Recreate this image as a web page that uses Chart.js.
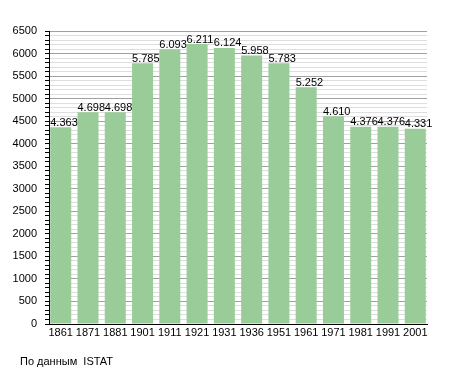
<!DOCTYPE html>
<html><head><meta charset="utf-8">
<script src="https://cdn.jsdelivr.net/npm/chart.js@4/dist/chart.umd.min.js"></script>
<style>html,body{margin:0;padding:0;background:#fff}canvas{display:block}</style>
</head><body>
<canvas id="c" width="455" height="373"></canvas>
<script>
const years = ['1861','1871','1881','1901','1911','1921','1931','1936','1951','1961','1971','1981','1991','2001'];
const population = [4363,4698,4698,5785,6093,6211,6124,5958,5783,5252,4610,4376,4376,4331];
const yMax = 6500;
const sourceNote = 'По данным  ISTAT';

const FONT = '"Liberation Sans", Arial, sans-serif';
function fmt(v){ return String(v).replace(/\B(?=(\d{3})+(?!\d))/g,'.'); }

const points = population.map((v,i)=>({x:i, y:v}));

const labelPlugin = {
  id:'vals',
  afterDatasetsDraw(chart){
    const ctx = chart.ctx;
    const meta = chart.getDatasetMeta(0);
    ctx.save();
    ctx.font = '11px ' + FONT;
    ctx.fillStyle = '#000';
    ctx.textAlign = 'left';
    ctx.textBaseline = 'bottom';
    meta.data.forEach((bar,i)=>{
      const left = bar.x - bar.width/2;
      ctx.fillText(fmt(population[i]), left, bar.y + 1);
    });
    ctx.textBaseline = 'middle';
    ctx.fillText(sourceNote, 20, 362);
    ctx.restore();
  }
};

new Chart(document.getElementById('c'), {
  type:'bar',
  data:{ datasets:[{ data: points, backgroundColor:'#99cc99', borderWidth:0, barPercentage:0.77, categoryPercentage:1 }]},
  options:{
    responsive:false, animation:false,
    layout:{ padding:{ left:0, right:28, top:31, bottom:0 } },
    plugins:{ legend:{display:false}, tooltip:{enabled:false} },
    scales:{
      x:{
        type:'linear', min:-0.43, max:years.length-1+0.43, offset:false,
        grid:{ display:false, drawTicks:false },
        border:{ display:true, color:'#000', width:1 },
        afterBuildTicks(s){ s.ticks = years.map((_,i)=>({value:i})); },
        ticks:{ color:'#000', font:{ family:FONT, size:11 }, padding:2, maxRotation:0, autoSkip:false,
          callback(v){ return years[v] !== undefined ? years[v] : ''; } },
        afterFit(s){ s.height = 49; }
      },
      y:{
        min:0, max:yMax,
        border:{ display:true, color:'#000', width:1 },
        grid:{
          color(c){ return c.tick && c.tick.value % 500 === 0 ? '#a0a0a0' : '#dedede'; },
          tickColor:'#000', tickLength:4, drawTicks:true
        },
        ticks:{
          stepSize:100, autoSkip:false, color:'#000', padding:8,
          font:{ family:FONT, size:11 },
          callback(v){ return v % 500 === 0 ? String(v) : ''; }
        },
        afterFit(s){ s.width = 49; }
      }
    }
  },
  plugins:[labelPlugin]
});
</script>
</body></html>
